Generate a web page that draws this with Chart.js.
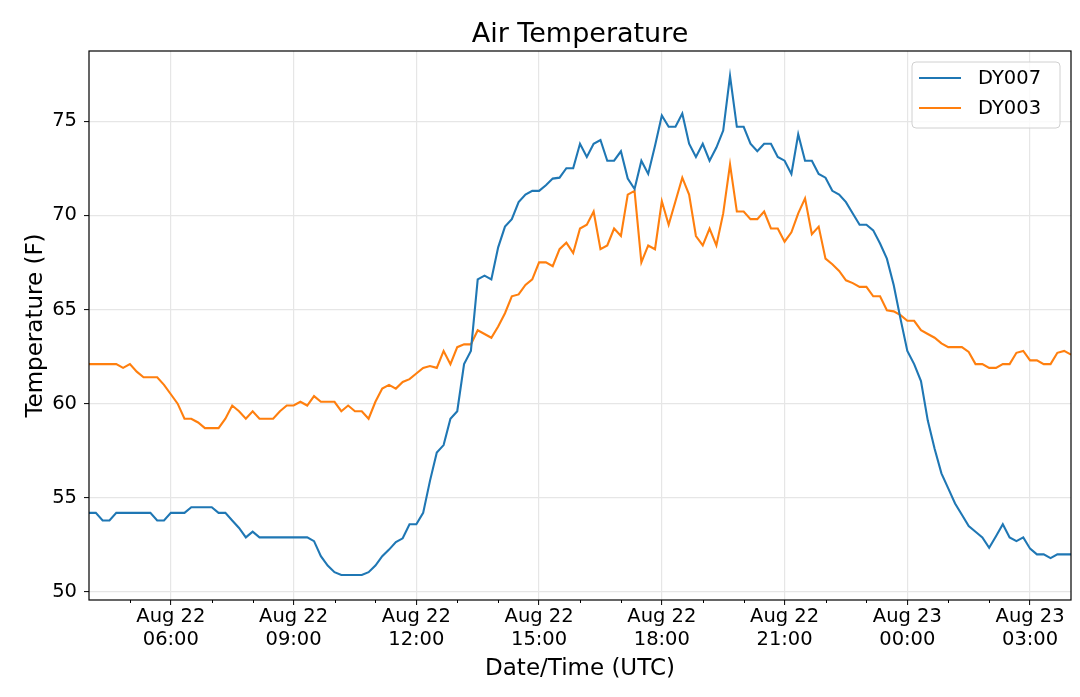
<!DOCTYPE html>
<html>
<head>
<meta charset="utf-8">
<title>Air Temperature</title>
<script src="https://cdn.jsdelivr.net/npm/chart.js@4.4.1/dist/chart.umd.min.js"></script>
<style>
  html, body { margin: 0; padding: 0; background: #fff; }
  canvas { display: block; }
</style>
</head>
<body>
<canvas id="chart" width="1080" height="697"></canvas>
<script>
// sample times (UTC), one every 10 minutes
const times = [
  "Aug 22 04:00","Aug 22 04:10","Aug 22 04:20","Aug 22 04:30","Aug 22 04:40","Aug 22 04:50",
  "Aug 22 05:00","Aug 22 05:10","Aug 22 05:20","Aug 22 05:30","Aug 22 05:40","Aug 22 05:50",
  "Aug 22 06:00","Aug 22 06:10","Aug 22 06:20","Aug 22 06:30","Aug 22 06:40","Aug 22 06:50",
  "Aug 22 07:00","Aug 22 07:10","Aug 22 07:20","Aug 22 07:30","Aug 22 07:40","Aug 22 07:50",
  "Aug 22 08:00","Aug 22 08:10","Aug 22 08:20","Aug 22 08:30","Aug 22 08:40","Aug 22 08:50",
  "Aug 22 09:00","Aug 22 09:10","Aug 22 09:20","Aug 22 09:30","Aug 22 09:40","Aug 22 09:50",
  "Aug 22 10:00","Aug 22 10:10","Aug 22 10:20","Aug 22 10:30","Aug 22 10:40","Aug 22 10:50",
  "Aug 22 11:00","Aug 22 11:10","Aug 22 11:20","Aug 22 11:30","Aug 22 11:40","Aug 22 11:50",
  "Aug 22 12:00","Aug 22 12:10","Aug 22 12:20","Aug 22 12:30","Aug 22 12:40","Aug 22 12:50",
  "Aug 22 13:00","Aug 22 13:10","Aug 22 13:20","Aug 22 13:30","Aug 22 13:40","Aug 22 13:50",
  "Aug 22 14:00","Aug 22 14:10","Aug 22 14:20","Aug 22 14:30","Aug 22 14:40","Aug 22 14:50",
  "Aug 22 15:00","Aug 22 15:10","Aug 22 15:20","Aug 22 15:30","Aug 22 15:40","Aug 22 15:50",
  "Aug 22 16:00","Aug 22 16:10","Aug 22 16:20","Aug 22 16:30","Aug 22 16:40","Aug 22 16:50",
  "Aug 22 17:00","Aug 22 17:10","Aug 22 17:20","Aug 22 17:30","Aug 22 17:40","Aug 22 17:50",
  "Aug 22 18:00","Aug 22 18:10","Aug 22 18:20","Aug 22 18:30","Aug 22 18:40","Aug 22 18:50",
  "Aug 22 19:00","Aug 22 19:10","Aug 22 19:20","Aug 22 19:30","Aug 22 19:40","Aug 22 19:50",
  "Aug 22 20:00","Aug 22 20:10","Aug 22 20:20","Aug 22 20:30","Aug 22 20:40","Aug 22 20:50",
  "Aug 22 21:00","Aug 22 21:10","Aug 22 21:20","Aug 22 21:30","Aug 22 21:40","Aug 22 21:50",
  "Aug 22 22:00","Aug 22 22:10","Aug 22 22:20","Aug 22 22:30","Aug 22 22:40","Aug 22 22:50",
  "Aug 22 23:00","Aug 22 23:10","Aug 22 23:20","Aug 22 23:30","Aug 22 23:40","Aug 22 23:50",
  "Aug 23 00:00","Aug 23 00:10","Aug 23 00:20","Aug 23 00:30","Aug 23 00:40","Aug 23 00:50",
  "Aug 23 01:00","Aug 23 01:10","Aug 23 01:20","Aug 23 01:30","Aug 23 01:40","Aug 23 01:50",
  "Aug 23 02:00","Aug 23 02:10","Aug 23 02:20","Aug 23 02:30","Aug 23 02:40","Aug 23 02:50",
  "Aug 23 03:00","Aug 23 03:10","Aug 23 03:20","Aug 23 03:30","Aug 23 03:40","Aug 23 03:50",
  "Aug 23 04:00"
];

// air temperature, deg F
const dy007 = [
  54.2, 54.2, 53.8, 53.8, 54.2, 54.2,
  54.2, 54.2, 54.2, 54.2, 53.8, 53.8,
  54.2, 54.2, 54.2, 54.5, 54.5, 54.5,
  54.5, 54.2, 54.2, 53.8, 53.4, 52.9,
  53.2, 52.9, 52.9, 52.9, 52.9, 52.9,
  52.9, 52.9, 52.9, 52.7, 51.9, 51.4,
  51.05, 50.9, 50.9, 50.9, 50.9, 51.05,
  51.4, 51.9, 52.25, 52.65, 52.85, 53.6,
  53.6, 54.2, 55.9, 57.4, 57.8, 59.2,
  59.6, 62.1, 62.8, 66.6, 66.8, 66.6,
  68.3, 69.4, 69.8, 70.7, 71.1, 71.3,
  71.3, 71.6, 71.95, 72.0, 72.5, 72.5,
  73.8, 73.1, 73.8, 74.0, 72.9, 72.9,
  73.4, 71.95, 71.4, 72.9, 72.2, 73.7,
  75.3, 74.7, 74.7, 75.4, 73.8, 73.1,
  73.8, 72.9, 73.6, 74.5, 77.4, 74.7,
  74.7, 73.8, 73.4, 73.8, 73.8, 73.1,
  72.9, 72.2, 74.3, 72.9, 72.9, 72.2,
  72.0, 71.3, 71.1, 70.7, 70.1, 69.5,
  69.5, 69.2, 68.5, 67.7, 66.3, 64.5,
  62.8, 62.1, 61.2, 59.1, 57.6, 56.3,
  55.5, 54.7, 54.1, 53.5, 53.2, 52.9,
  52.35, 52.96, 53.6, 52.9, 52.7, 52.9,
  52.3, 52.0, 52.0, 51.8, 52.0, 52.0,
  52.0
];

const dy003 = [
  62.1, 62.1, 62.1, 62.1, 62.1, 61.9,
  62.1, 61.7, 61.4, 61.4, 61.4, 61.0,
  60.5, 60.0, 59.2, 59.2, 59.0, 58.7,
  58.7, 58.7, 59.2, 59.9, 59.6, 59.2,
  59.6, 59.2, 59.2, 59.2, 59.6, 59.9,
  59.9, 60.1, 59.9, 60.4, 60.1, 60.1,
  60.1, 59.6, 59.9, 59.6, 59.6, 59.2,
  60.1, 60.8, 61.0, 60.8, 61.15, 61.3,
  61.6, 61.9, 62.0, 61.9, 62.8, 62.1,
  63.0, 63.15, 63.15, 63.9, 63.7, 63.5,
  64.1, 64.8, 65.7, 65.8, 66.3, 66.6,
  67.5, 67.5, 67.3, 68.2, 68.55, 68.0,
  69.3, 69.5, 70.2, 68.2, 68.4, 69.3,
  68.9, 71.1, 71.3, 67.5, 68.4, 68.2,
  70.75, 69.5, 70.75, 72.0, 71.1, 68.9,
  68.4, 69.3, 68.4, 70.1, 72.7, 70.2,
  70.2, 69.8, 69.8, 70.2, 69.3, 69.3,
  68.6, 69.1, 70.1, 70.9, 69.0, 69.4,
  67.7, 67.4, 67.05, 66.55, 66.4, 66.2,
  66.2, 65.7, 65.7, 64.96, 64.9, 64.7,
  64.4, 64.4, 63.9, 63.7, 63.5, 63.2,
  63.0, 63.0, 63.0, 62.75, 62.1, 62.1,
  61.9, 61.9, 62.1, 62.1, 62.7, 62.8,
  62.3, 62.3, 62.1, 62.1, 62.7, 62.8,
  62.6
];

const xTickLabels = [
  "Aug 22 06:00", "Aug 22 09:00", "Aug 22 12:00", "Aug 22 15:00",
  "Aug 22 18:00", "Aug 22 21:00", "Aug 23 00:00", "Aug 23 03:00"
];
const yTickLabels = [50, 55, 60, 65, 70, 75];
const yRange = [49.575, 78.725];

// "Aug 22 06:00" -> minutes since Aug 22 00:00
function toMinutes(s) {
  const parts = s.split(" ");
  const hm = parts[2].split(":");
  return (parseInt(parts[1]) - 22) * 1440 + parseInt(hm[0]) * 60 + parseInt(hm[1]);
}

const xValues = times.map(toMinutes);
const xMin = xValues[0];
const xMax = xValues[xValues.length - 1];
const majorValues = xTickLabels.map(toMinutes);
const hourValues = [];
for (let v = xMin + 60; v < xMax; v += 60) hourValues.push(v);

const isMajor = v => majorValues.indexOf(v) !== -1;

const FONT = "'DejaVu Sans', 'Liberation Sans', sans-serif";
const GRID = "#e6e6e6";
const CLEAR = "rgba(0,0,0,0)";

const frame = {
  id: "frame",
  afterDraw(chart) {
    const ctx = chart.ctx;
    const a = chart.chartArea;
    const xs = chart.scales.x;
    ctx.save();

    // minor ticks, shorter than the labelled ones
    ctx.strokeStyle = "#000";
    ctx.lineWidth = 1;
    hourValues.forEach(v => {
      if (isMajor(v)) return;
      const px = Math.round(xs.getPixelForValue(v)) + 0.5;
      ctx.beginPath();
      ctx.moveTo(px, a.bottom);
      ctx.lineTo(px, a.bottom + 3);
      ctx.stroke();
    });

    // axes box
    ctx.strokeStyle = "#000";
    ctx.lineWidth = 1.2;
    ctx.strokeRect(a.left, a.top, a.right - a.left, a.bottom - a.top);

    // title
    ctx.fillStyle = "#000";
    ctx.font = "27px " + FONT;
    ctx.textAlign = "center";
    ctx.textBaseline = "alphabetic";
    ctx.fillText("Air Temperature", (a.left + a.right) / 2, 42);

    // legend box in upper right
    const w = 148, h = 66;
    const bx = a.right - 11 - w, by = a.top + 11;
    ctx.beginPath();
    ctx.roundRect(bx, by, w, h, 4);
    ctx.fillStyle = "rgba(255,255,255,0.8)";
    ctx.fill();
    ctx.strokeStyle = "#d0d0d0";
    ctx.lineWidth = 1;
    ctx.stroke();

    ctx.font = "19.5px " + FONT;
    ctx.textAlign = "left";
    ctx.textBaseline = "middle";
    chart.data.datasets.forEach((ds, i) => {
      const ly = by + 16 + i * 30;
      ctx.strokeStyle = ds.borderColor;
      ctx.lineWidth = 2;
      ctx.beginPath();
      ctx.moveTo(bx + 7, ly);
      ctx.lineTo(bx + 49, ly);
      ctx.stroke();
      ctx.fillStyle = "#000";
      ctx.fillText(ds.label, bx + 66, ly + 1);
    });
    ctx.restore();
  }
};

const config = {
  type: "line",
  data: {
    datasets: [
      {
        label: "DY007",
        data: xValues.map((x, i) => ({ x: x, y: dy007[i] })),
        borderColor: "#1f77b4",
        borderWidth: 2.1,
        pointRadius: 0,
        tension: 0,
        fill: false
      },
      {
        label: "DY003",
        data: xValues.map((x, i) => ({ x: x, y: dy003[i] })),
        borderColor: "#ff7f0e",
        borderWidth: 2.1,
        pointRadius: 0,
        tension: 0,
        fill: false
      }
    ]
  },
  options: {
    responsive: false,
    animation: false,
    devicePixelRatio: 1,
    layout: { padding: { top: 51, right: 9, left: 0, bottom: 0 } },
    plugins: {
      legend: { display: false },
      title: { display: false },
      tooltip: { enabled: false }
    },
    scales: {
      x: {
        type: "linear",
        min: xMin,
        max: xMax,
        afterBuildTicks: s => { s.ticks = hourValues.map(v => ({ value: v })); },
        afterFit: s => { s.height = 97; },
        border: { display: false },
        grid: {
          color: c => (c.tick && isMajor(c.tick.value)) ? GRID : CLEAR,
          lineWidth: 1.2,
          tickColor: c => (c.tick && isMajor(c.tick.value)) ? "#000" : CLEAR,
          tickLength: 5,
          tickWidth: 1
        },
        ticks: {
          autoSkip: false,
          maxRotation: 0,
          color: "#000",
          padding: 0,
          font: { family: FONT, size: 19.5, lineHeight: 1.2 },
          callback: v => {
            const i = majorValues.indexOf(v);
            if (i === -1) return "";
            const p = xTickLabels[i].split(" ");
            return [p[0] + " " + p[1], p[2]];
          }
        },
        title: {
          display: true,
          text: "Date/Time (UTC)",
          color: "#000",
          font: { family: FONT, size: 23 },
          padding: { top: 0, bottom: 14 }
        }
      },
      y: {
        min: yRange[0],
        max: yRange[1],
        afterBuildTicks: s => { s.ticks = yTickLabels.map(v => ({ value: v })); },
        afterFit: s => { s.width = 89; },
        border: { display: false },
        grid: {
          color: GRID,
          lineWidth: 1.2,
          tickColor: "#000",
          tickLength: 5,
          tickWidth: 1
        },
        ticks: {
          color: "#000",
          padding: 7,
          font: { family: FONT, size: 19.5 },
          callback: v => String(v)
        },
        title: {
          display: true,
          text: "Temperature (F)",
          color: "#000",
          font: { family: FONT, size: 23 },
          padding: { top: 22, bottom: 0 }
        }
      }
    }
  },
  plugins: [frame]
};

const chart = new Chart(document.getElementById("chart").getContext("2d"), config);
</script>
</body>
</html>
